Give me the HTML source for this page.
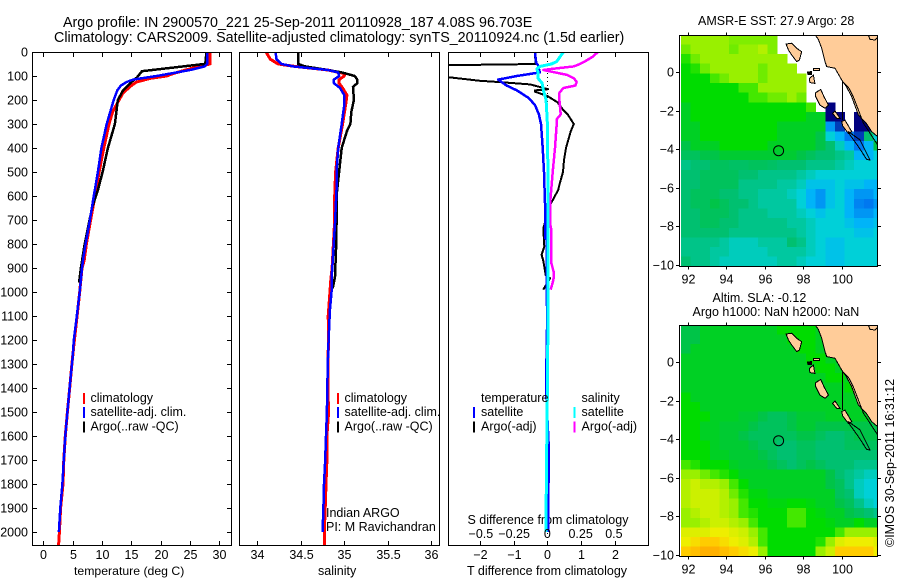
<!DOCTYPE html>
<html>
<head>
<meta charset="utf-8">
<title>Argo profile</title>
<style>
html,body{margin:0;padding:0;background:#fff;}
svg{display:block;}
text{font-family:"Liberation Sans",sans-serif;font-size:12.5px;fill:#000;}
.title{font-size:14.3px;}
</style>
</head>
<body>
<svg id="chart" xmlns="http://www.w3.org/2000/svg" width="900" height="580" viewBox="0 0 900 580">
<rect width="900" height="580" fill="#fff"/>
<defs>
<clipPath id="clip-t"><rect x="33" y="53" width="198" height="492"/></clipPath>
<clipPath id="clip-s"><rect x="240" y="53" width="199" height="492"/></clipPath>
<clipPath id="clip-d"><rect x="449" y="53" width="199" height="492"/></clipPath>
<clipPath id="clip-m1"><rect x="680" y="36" width="197" height="230"/></clipPath>
<clipPath id="clip-m2"><rect x="680" y="326" width="197" height="230"/></clipPath>
</defs>
<text class="title" x="63" y="27">Argo profile: IN 2900570_221 25-Sep-2011 20110928_187 4.08S 96.703E</text>
<text class="title" x="54" y="42">Climatology: CARS2009. Satellite-adjusted climatology: synTS_20110924.nc (1.5d earlier)</text>
<text x="698" y="25">AMSR-E SST: 27.9 Argo: 28</text>
<text x="712.5" y="302">Altim. SLA: -0.12</text>
<text x="692.5" y="316">Argo h1000: NaN h2000: NaN</text>
<text transform="translate(894,547) rotate(-90)">©IMOS 30-Sep-2011 16:31:12</text>
<text x="74" y="575" style="font-size:12.25px">temperature (deg C)</text>
<text x="318" y="575">salinity</text>
<text x="467" y="575">T difference from climatology</text>
<text x="467.5" y="524">S difference from climatology</text>
<text x="326" y="517">Indian ARGO</text>
<text x="326" y="531">PI: M Ravichandran</text>
<g id="layer"></g>
</svg>
<script>
/* ---------- axis ticks ---------- */
var depthTicks = [0,100,200,300,400,500,600,700,800,900,1000,1100,1200,1300,1400,1500,1600,1700,1800,1900,2000];
var tempTicks = [0,5,10,15,20,25,30];
var salTicks = [34,34.5,35,35.5,36];
var salTickLabels = ['34','34.5','35','35.5','36'];
var tDiffTicks = [-2,-1,0,1,2];
var sDiffTicks = [-0.5,-0.25,0,0.25,0.5];
var sDiffTickLabels = ['−0.5','−0.25','0','0.25','0.5'];
var lonTicks = [92,94,96,98,100];
var latTicks = [0,-2,-4,-6,-8,-10];

/* ---------- temperature profile ---------- */
var tempClimDepth = [0,50,60,70,90,100,110,125,140,170,200,250,300,400,500,600,700,800,870,900,1000,1100,1200,1300,1400,1500,1600,1700,1800,1900,2000,2054];
var tempClim = [28.4,28.4,26.7,25,22.1,21,18.2,15.9,15,13.6,12.9,11.8,11.2,10.3,9.5,8.8,8.05,7.35,6.95,6.6,6.2,5.75,5.3,4.87,4.5,4.1,3.75,3.5,3.35,2.95,2.75,2.6];
var tempSatDepth = [0,50,60,75,90,100,115,125,140,160,200,250,300,400,500,600,714,800,853,900,1000,1100,1200,1270,1395,1500,1600,1700,1800,1900,2000];
var tempSat = [27.9,27.9,27.5,25,21.6,19.3,15.3,14.2,13.2,12.6,12,11.4,10.8,9.9,9.3,8.6,7.84,7.2,6.85,6.6,6.2,5.7,5.2,5,4.5,4.1,3.75,3.5,3.25,2.9,2.65];
var tempArgoDepth = [0,48,50,80,105,130,160,200,300,400,500,575,650,800,900,960];
var tempArgo = [27.8,27.6,27.4,16.8,16,14.8,13.6,12.7,12.2,11,10.1,9.3,8.3,7.05,6.4,6.1];

/* ---------- salinity profile ---------- */
var salClimDepth = [0,30,50,60,75,90,100,115,130,150,180,210,300,400,500,600,700,800,900,950,1050,1100,1200,1300,1400,1500,1600,1700,1800,1900,2000,2054];
var salClim = [34.1,34.15,34.24,34.43,34.81,35,35,34.94,34.94,34.98,35.03,35.02,34.98,34.93,34.9,34.89,34.89,34.875,34.86,34.845,34.825,34.815,34.82,34.81,34.81,34.82,34.8,34.8,34.79,34.78,34.77,34.77];
var salSatDepth = [0,30,50,60,75,85,100,115,130,150,180,220,300,400,500,575,714,825,936,992,1075,1200,1300,1400,1500,1600,1700,1800,1900,2000];
var salSat = [34.21,34.22,34.28,34.41,34.81,34.93,34.94,34.88,34.88,34.95,35,35,34.97,34.93,34.91,34.91,34.893,34.875,34.855,34.855,34.835,34.82,34.81,34.805,34.8,34.79,34.78,34.767,34.76,34.75];
var salArgoDepth = [0,50,60,75,85,100,115,130,145,200,250,300,330,400,500,600,720,825,936,960,985];
var salArgo = [34.47,34.47,34.55,34.81,34.97,35.12,35.15,35.15,35.1,35.11,35.08,35.07,35.03,34.97,34.94,34.91,34.91,34.905,34.893,34.88,34.867];

/* ---------- difference profiles ---------- */
var tDiffArgoDepth = [0,45,50,55,80,105,120,125,135,155,160,165,175,185,210,240,260,300,330,400,450,500,550,575,637,735,810,845,870,930,943,990];
var tDiffArgo = [-0.37,-0.35,-0.33,-2.92,-5,-2.92,-1.99,-1.45,-0.51,0.02,-0.37,-0.37,-0.17,0.02,0.3,0.46,0.6,0.78,0.69,0.55,0.49,0.46,0.36,0.32,0.08,-0.12,-0.09,-0.17,-0.12,-0.05,0.08,-0.12];
var tDiffSatDepth = [0,45,55,85,100,115,125,140,160,190,220,260,300,400,500,630,776,780,1054,1060,1400,1650,2000];
var tDiffSat = [-0.37,-0.33,-0.28,-0.22,-0.9,-1.45,-1.35,-1.2,-0.9,-0.57,-0.37,-0.25,-0.19,-0.14,-0.1,-0.07,-0.07,-0.02,-0.02,0,-0.04,0.04,0.02];
var sDiffSatDepth = [0,20,40,50,60,70,85,110,130,160,200,300,630,1000,1400,1800,2000];
var sDiffSat = [0.12,0.095,0.07,0.03,-0.055,-0.08,-0.07,-0.07,-0.04,-0.03,-0.01,0,0.006,0.006,0,-0.008,-0.01];
var sDiffArgoDepth = [0,20,40,50,60,70,75,85,95,110,125,140,150,170,200,260,280,300,400,500,630,714,742,880,922,950,990];
var sDiffArgo = [0.38,0.34,0.28,0.245,0.2,0.04,-0.03,0.057,0.145,0.2,0.22,0.21,0.12,0.09,0.09,0.1,0.07,0.07,0.057,0.04,0.02,0.02,0.03,0.03,0.05,0.045,0.025];

/* ---------- map fields: colour levels on rows north to south, 0.5 degree cells ---------- */
var sstField = [
[9,9,9,9,9,8.7,8.7,8.7,8.7,8.7,null,null,null,null,null,null,null,null,null,null,null],
[8.5,9,9,9,9,8.5,9,9,9.5,8.7,null,null,null,null,null,null,null,null,null,null,null],
[7.5,8.5,9,9,9,9,9,9,9,9,9,null,null,null,null,null,null,null,null,null,null],
[7,7.5,8.5,9,9,9,9,9,8.5,9,9,9,null,null,null,null,null,null,null,null,null],
[7,7,7,8,8.5,9,9,9,8.5,9,9,9,9,null,null,null,null,null,null,null,null],
[7,7,7,7,7,7,8,8,9,9,9,9,9,null,null,null,null,null,null,null,null],
[7,7,7,7,7,7,7,8,8,8.5,8.5,9,8.5,null,null,null,null,null,null,null,null],
[6.5,7,7,7,7,7,7,7,7,7,7,7,7,8,null,0,null,null,null,null,null],
[6.5,7,7,7,7,7,7,7,7,7,7,7,7,6.5,6.5,0,0,null,0,0,null],
[6.5,6.5,7,7,7,7,7,7,7,7,6.5,6.5,6.5,6.5,6.5,1.5,0.5,null,0,0,null],
[6.5,6.5,7,7,7,7,7,7,7,7,6.5,6.5,6.5,6.5,6,3,2,1,0.5,5,3],
[6,6.5,6.5,6.5,7,7,7,7,7,6.5,6.5,6.5,6.5,6.5,6,5,3.5,2,1,2,6],
[5.5,5.5,6,6,6.3,6.3,6.3,6.3,6.3,6.3,6.3,6.3,6,5.5,5,5,4.5,4,2,2,3],
[4.5,5,5,5.5,5.5,5.3,5.3,5.5,5.5,5.3,5,5,5,4.5,4.5,4.5,4,3.5,3,3,3],
[5,5,5.5,5.5,5.5,5.5,5,5,4.5,4.5,4.5,4.5,4,3.5,3,3,3,3,3,3,3],
[5,5,5.5,5.5,5.5,5.5,4.5,4.5,4.5,4.5,4,4,3.5,2.5,2.5,2.5,3,2.5,2.5,2,2],
[5,5.5,5.5,5.5,5,5,4.5,4.5,4,4,4,3.5,3,2,1.5,2.5,3,2,1.5,1.5,2],
[5,5.5,5.5,6,5.5,5,5,4.5,4,4,4,4,3,2,1.5,2.5,3,2,1.2,1,1.5],
[5,5,5.5,5.5,5.5,5,4.5,4.5,4.5,4,4,4,3.5,3,2.5,3,3,2,1.5,1.5,2],
[5,5,5.5,5.5,5,5,4.5,4.5,4.5,4.5,4.5,4,4,3.5,3,3,3,2.5,2,2,2.5],
[5,5,5,5,5,4.5,4.5,4.5,4.5,4.5,4.5,4.5,4,3.5,3,3,3,3,2.5,2.5,3],
[4.5,4.5,4.5,4.5,4,3.5,3.5,3.5,4,4,4,5,4.5,3.5,3,2.5,2.5,3,3,3,3],
[4.5,4.5,4.5,4,4,3.5,3.5,3.5,3.5,4,4,4,4,3.5,3,2.5,2.5,3,3,3,3],
[5,4.5,4.5,4,3.5,3.5,3.5,3.5,3.5,3.5,4,4,3.5,3,3,2.5,2.5,3,3,3,3]
];
var slaField = [
[6,6,6.5,6.5,6.5,6.5,6.5,6.5,6.5,6.5,7,7,7,7,6.5,6.5,6.5,6.5,6.5,6.5,6.5],
[6,6,6.5,6.5,6.5,6.5,6.5,6.5,6.5,6.5,6.5,7,7,7,6.5,6.5,6.5,6.5,6.5,6.5,6.5],
[6,6.5,6.5,6.5,6.5,6.5,6.5,6.5,6.5,6.5,6.5,6.5,7,7,6.5,6.5,6.5,6.5,6.5,6.5,6.5],
[6.5,6.5,6.5,6.5,6.5,6.5,6.5,6.5,6.5,6.5,6.5,6.5,6.5,7,7,6.5,6.5,6.5,6.5,6.5,6.5],
[6.5,6.5,6.5,6.5,6.5,6.5,6.5,6.5,6.5,6.5,6.5,6.5,6.5,6.5,7,7,6.5,6.5,6.5,6.5,6.5],
[6.5,6.5,6.5,6.5,6.5,6.5,6.5,6.5,6.5,6.5,6.5,6.5,6.5,6.5,6.5,7,7,6.5,6.5,6.5,6.5],
[6.5,6.5,6.5,6.5,6.5,6.5,6.5,6.5,6.5,6.5,6.5,6.5,6.5,6.5,6.5,6.5,6.5,7,6.5,6.5,6.5],
[7,6.5,6.5,6.5,6.5,6.5,6.5,6.5,6.5,6.5,6.5,6.5,6.5,6.5,6.5,6.5,6.5,6.5,6.5,6.5,6.5],
[7,7,6.5,6.5,6.5,6.5,6.5,6.5,6.5,6.5,6.5,6.5,6.5,6.5,6.5,6.5,6.5,6.5,6.5,6.5,6.5],
[7,7,7,6.5,6.5,6.5,6.3,6.3,6,5.5,5.5,6,6.3,6.3,6.3,6.5,6.5,6.5,6.5,6.5,6.5],
[7,7,6.5,6.5,6.3,6.3,6.3,6,5.5,5.5,5.5,6,6.3,6.3,6,6,6,6,6,6,6],
[7,7,6.5,6.5,6.3,6.3,6,5.5,5.5,5.5,5.5,5.5,6,6,5.5,5,5,5.5,6,6,6],
[7,7,7,6.5,6.3,6.3,6.3,6,5.5,5.5,5,5,5.5,5.5,5,5,5,5.5,5.5,5.5,5.5],
[7,7,7,6.5,6.5,6.3,6.3,6.3,6,5.5,5,5,5.5,5.5,5,5,5,5,5,5,5],
[8,7.5,7,7,7,6.5,6.3,6.3,6.3,6,5.5,5,5.5,6,5.5,5,5,5,4.5,4.5,4.5],
[9,9,8.5,8,7.5,7,6.5,6.5,6.5,6.5,6.5,6.5,6.5,6.5,6.5,6,5,4.5,4,3.5,3.5],
[9.5,10,9.5,9.5,9,8,7,6.5,6.5,6.5,6.5,6.5,6.5,6.5,6.5,6,5.5,4.5,3.5,3,3],
[9.5,10,10,10,9.5,8.5,7.5,6.8,6.8,6.5,6.5,6.5,6.5,6.5,6.5,6.5,5.5,5,3.5,3,3],
[9.5,10,10,10,9.5,9,8,7,7,6.8,6.8,7,7,6.8,6.5,6.5,6,5.5,4.5,3.5,3],
[9,9.5,10,10,9.5,9,8,7.5,7,7,7,8,8,7,6.8,6.5,6.5,6,5.5,5,4.5],
[9,9,9.5,10,10,9.5,9,8,7,7,7,8,8,7,7,6.8,6.5,6.5,7,6.5,6.5],
[10.5,10.5,10.5,11,11,10.5,10,9,8,7,7,7,7,7,7,7,8,9,9,9,9],
[11,11.5,12,12,11.5,11,10.5,9.5,8,7,7,7,7,7,7.5,9,10.5,11,11,11,10.5],
[12,12.5,13,13,12.5,12,11.5,11,9,7,7,7,7,7,9,10,12,12,12,12,11]
];
var fieldColours = ['#000080','#0078f0','#00b4f8','#00d0d8','#00c8a0','#00c070','#00c448','#00dc00','#44e800','#99f000','#ccf000','#eeee00','#ffcc00','#ffb000'];

/* ---------- coastline ---------- */
var mainlandLon = [98.65,98.79,98.96,99.13,99.22,99.65,100,100.26,100.52,100.87,101.3,101.56,101.87,101.87];
var mainlandLat = [1.88,1.69,1.23,0.54,0.28,0.19,-0.41,-0.79,-1.28,-2.23,-2.69,-3.09,-3.35,1.88];
var simeulueLon = [97.11,97.4,97.66,97.92,97.8,97.66,97.4,97.23];
var simeulueLat = [1.45,1.49,1.23,1.05,0.62,0.54,0.88,1.14];
var niasLon = [98.65,98.91,99.08,99.31,99.13,98.87,98.65];
var niasLat = [-1.07,-0.9,-1.28,-1.71,-1.88,-1.71,-1.28];
var banyakLon = [98.32,98.53,98.61,98.35];
var banyakLat = [-0.33,-0.16,-0.59,-0.55];
var isletLon = [98.53,98.84,98.84,98.53];
var isletLat = [0.19,0.19,0.07,0.07];
var blobLon = [98.22,98.42,98.42,98.25];
var blobLat = [0,0.02,-0.12,-0.12];
var siberutLon = [99.52,99.65,99.91,99.74];
var siberutLat = [-2.14,-2.02,-2.4,-2.4];
var siporaLon = [100,100.17,100.52,100.35,100.05];
var siporaLat = [-2.57,-2.49,-3.09,-3.18,-2.8];
var contourALon = [100.05,100.05];
var contourALat = [-0.5,-2.49];
var contourBLon = [100.09,100.35,100.6,101.13,101.87];
var contourBLat = [-0.55,-0.79,-1.28,-2.66,-3.78];
var contourCLon = [100.35,100.95,101.47,101.3,100.87,100.43];
var contourCLat = [-3.09,-3.52,-4.56,-4.53,-3.87,-3.26];
var bayLon = [101.39,101.47,101.73,101.87,101.87];
var bayLat = [1.88,1.69,1.66,1.8,1.88];
var floatLon = 96.72;
var floatLat = -4.08;

/* ---------- axis functions ---------- */
function yDepth(d){return 52+0.24*d;}
function xTemp(t){return 43.3+5.87*t;}
function xSal(s){return 257.3+87*(s-34);}
function xTDiff(t){return 547.4+33.9*t;}
function xSDiff(s){return 547.4+133*s;}
function xLon(lon){return 687.7+19.25*(lon-92);}
function yLat1(lat){return 72-19.3*lat;}
function yLat2(lat){return 362-19.3*lat;}

var NS='http://www.w3.org/2000/svg';
var root=document.getElementById('layer');
function mk(tag,attrs,parent){
  var e=document.createElementNS(NS,tag);
  for(var k in attrs){e.setAttribute(k,attrs[k]);}
  (parent||root).appendChild(e);
  return e;
}
function tickLine(x1,y1,x2,y2,parent){
  var t=mk('line',{x1:x1,y1:y1,x2:x2,y2:y2,stroke:'#000','stroke-width':1,'shape-rendering':'crispEdges'},parent);
  
  
}
function tickText(x,y,anchor,str,parent){
  var t=mk('text',{x:x,y:y,'text-anchor':anchor},parent);
  t.textContent=str;
  
  
}
function frame(x,y,w,h,name){
  var f=mk('rect',{x:x,y:y,width:w,height:h,fill:'none',stroke:'#000','stroke-width':1,'shape-rendering':'crispEdges'});
  
  
}
function profile(xf,depths,vals,colour,clip,name,width){
  var pts=[];
  for(var i=0;i<vals.length;i++){pts.push(xf(vals[i]).toFixed(1)+','+yDepth(depths[i]).toFixed(1));}
  var p=mk('polyline',{points:pts.join(' '),fill:'none',stroke:colour,'stroke-width':width||2,'clip-path':'url(#'+clip+')','stroke-linejoin':'round','shape-rendering':'crispEdges'});
  
  
}
function legendBar(x,y,colour,name){
  var b=mk('rect',{x:x,y:y,width:2,height:11,fill:colour,'shape-rendering':'crispEdges'});
  
  
}
function legendText(x,y,str,name){
  var t=mk('text',{x:x,y:y});
  t.textContent=str;
  
  
}

/* ---------- profile panels ---------- */
function drawProfilePanels(){
  var i,x;
  // temperature
  profile(xTemp,tempClimDepth,tempClim,'#ff0000','clip-t','temperature-climatology-line',3);
  profile(xTemp,tempArgoDepth,tempArgo,'#000000','clip-t','temperature-argo-line',2.5);
  profile(xTemp,tempSatDepth,tempSat,'#0000ff','clip-t','temperature-satellite-line',2.5);
  frame(32.5,52.5,199,493,'temperature-plot-frame');
  for(i=0;i<depthTicks.length;i++){
    var y=Math.round(yDepth(depthTicks[i]))+0.5;
    tickLine(33,y,37,y);
    tickLine(227,y,231,y);
    tickText(28,y+4,'end',String(depthTicks[i]));
  }
  for(i=0;i<tempTicks.length;i++){
    x=Math.round(xTemp(tempTicks[i]))+0.5;
    tickLine(x,53,x,57);
    tickLine(x,541,x,545);
    tickText(x,559,'middle',String(tempTicks[i]));
  }
  // salinity
  profile(xSal,salClimDepth,salClim,'#ff0000','clip-s','salinity-climatology-line',3);
  profile(xSal,salArgoDepth,salArgo,'#000000','clip-s','salinity-argo-line',2.5);
  profile(xSal,salSatDepth,salSat,'#0000ff','clip-s','salinity-satellite-line',2.5);
  frame(239.5,52.5,200,493,'salinity-plot-frame');
  for(i=0;i<salTicks.length;i++){
    x=Math.round(xSal(salTicks[i]))+0.5;
    tickLine(x,53,x,57);
    tickLine(x,541,x,545);
    tickText(x,559,'middle',salTickLabels[i]);
  }
  // differences
  var zero=mk('line',{x1:547.5,y1:53,x2:547.5,y2:545,stroke:'#000','stroke-width':1,'stroke-dasharray':'1 3','shape-rendering':'crispEdges'});
  
  
  profile(xTDiff,tDiffArgoDepth,tDiffArgo,'#000000','clip-d','t-difference-argo-line',2);
  profile(xSDiff,sDiffArgoDepth,sDiffArgo,'#ff00ff','clip-d','s-difference-argo-line',2.5);
  profile(xTDiff,tDiffSatDepth,tDiffSat,'#0000ff','clip-d','t-difference-satellite-line',2.5);
  profile(xSDiff,sDiffSatDepth,sDiffSat,'#00ffff','clip-d','s-difference-satellite-line',3);
  frame(448.5,52.5,200,493,'difference-plot-frame');
  for(i=0;i<tDiffTicks.length;i++){
    x=Math.round(xTDiff(tDiffTicks[i]))+0.5;
    tickLine(x,53,x,57);
    tickLine(x,541,x,545);
    tickText(x,559,'middle',tDiffTicks[i]<0?'−'+Math.abs(tDiffTicks[i]):String(tDiffTicks[i]));
  }
  for(i=0;i<sDiffTicks.length;i++){
    tickText(xSDiff(sDiffTicks[i]),538,'middle',sDiffTickLabels[i]);
  }
}

/* ---------- legends ---------- */
function drawLegends(){
  legendBar(83,393,'#ff0000','temperature-legend-climatology-swatch');
  legendBar(83,407,'#0000ff','temperature-legend-satellite-swatch');
  legendBar(83,421.5,'#000000','temperature-legend-argo-swatch');
  legendText(90.5,402,'climatology','temperature-legend-climatology');
  legendText(90.5,416,'satellite-adj. clim.','temperature-legend-satellite');
  legendText(90.5,430.5,'Argo(..raw -QC)','temperature-legend-argo');
  legendBar(337,393,'#ff0000','salinity-legend-climatology-swatch');
  legendBar(337,407,'#0000ff','salinity-legend-satellite-swatch');
  legendBar(337,421.5,'#000000','salinity-legend-argo-swatch');
  legendText(344.5,402,'climatology','salinity-legend-climatology');
  legendText(344.5,416,'satellite-adj. clim.','salinity-legend-satellite');
  legendText(344.5,430.5,'Argo(..raw -QC)','salinity-legend-argo');
  legendText(481,402,'temperature','difference-legend-temperature-heading');
  legendText(581.5,402,'salinity','difference-legend-salinity-heading');
  legendBar(473,407,'#0000ff','difference-legend-t-satellite-swatch');
  legendBar(473,421.5,'#000000','difference-legend-t-argo-swatch');
  legendBar(573.5,407,'#00ffff','difference-legend-s-satellite-swatch');
  legendBar(573.5,421.5,'#ff00ff','difference-legend-s-argo-swatch');
  legendText(481,416,'satellite','difference-legend-t-satellite');
  legendText(481,430.5,'Argo(-adj)','difference-legend-t-argo');
  legendText(581.5,416,'satellite','difference-legend-s-satellite');
  legendText(581.5,430.5,'Argo(-adj)','difference-legend-s-argo');
}

/* ---------- maps ---------- */
function fieldColour(v){
  var n=fieldColours.length-1;
  var c=Math.max(0,Math.min(n,v));
  var lo=Math.floor(c),hi=Math.min(n,lo+1),f=c-lo;
  function ch(s,a){return parseInt(s.substr(a,2),16);}
  var a=fieldColours[lo],b=fieldColours[hi];
  return 'rgb('+Math.round(ch(a,1)+(ch(b,1)-ch(a,1))*f)+','+Math.round(ch(a,3)+(ch(b,3)-ch(a,3))*f)+','+Math.round(ch(a,5)+(ch(b,5)-ch(a,5))*f)+')';
}
function shape(lons,lats,yf,fill,stroke,clip,name,closed){
  var pts=[];
  for(var i=0;i<lons.length;i++){pts.push(xLon(lons[i]).toFixed(1)+','+yf(lats[i]).toFixed(1));}
  var s=mk(closed?'polygon':'polyline',{points:pts.join(' '),fill:fill,stroke:stroke,'stroke-width':1,'clip-path':'url(#'+clip+')','shape-rendering':'crispEdges'});
  
  
}
function drawMap(field,yf,clip,left,top,prefix){
  var i,j;
  var cols=field[0].length;
  for(i=0;i<field.length;i++){
    for(j=0;j<cols;j++){
      if(field[i][j]===null){continue;}
      var lonW=91.65+0.5*j, latN=1.93-0.5*i;
      var c=mk('rect',{x:Math.max(681,xLon(lonW)).toFixed(1),y:yf(latN).toFixed(1),width:(19.25*0.5+0.5).toFixed(2),height:(19.3*0.5+0.5).toFixed(2),fill:fieldColour(field[i][j]),'clip-path':'url(#'+clip+')','shape-rendering':'crispEdges'});
      
      
    }
  }
  var land='#ffcc99';
  shape(mainlandLon,mainlandLat,yf,land,'#000',clip,prefix+'-mainland',true);
  shape(bayLon,bayLat,yf,land,'#000',clip,prefix+'-northeast-coast',true);
  shape(simeulueLon,simeulueLat,yf,land,'#000',clip,prefix+'-simeulue-island',true);
  shape(niasLon,niasLat,yf,land,'#000',clip,prefix+'-nias-island',true);
  shape(banyakLon,banyakLat,yf,land,'#000',clip,prefix+'-banyak-island',true);
  shape(isletLon,isletLat,yf,land,'#000',clip,prefix+'-islet',true);
  shape(blobLon,blobLat,yf,'#000','#000',clip,prefix+'-small-islets',true);
  shape(siberutLon,siberutLat,yf,land,'#000',clip,prefix+'-siberut-island',true);
  shape(siporaLon,siporaLat,yf,land,'#000',clip,prefix+'-sipora-island',true);
  shape(contourALon,contourALat,yf,'none','#000',clip,prefix+'-contour-a',false);
  shape(contourBLon,contourBLat,yf,'none','#000',clip,prefix+'-contour-b',false);
  shape(contourCLon,contourCLat,yf,'none','#000',clip,prefix+'-contour-c',true);
  var ring=mk('circle',{cx:xLon(floatLon).toFixed(1),cy:yf(floatLat).toFixed(1),r:5,fill:'none',stroke:'#000','stroke-width':1});
  
  
  frame(679.5,top,198,231,prefix+'-frame');
  for(i=0;i<lonTicks.length;i++){
    var x=Math.round(xLon(lonTicks[i]))+0.5;
    tickLine(x,top-3,x,top);
    tickLine(x,top+231,x,top+234);
    tickText(x,top+248,'middle',String(lonTicks[i]));
  }
  for(i=0;i<latTicks.length;i++){
    var y=Math.round(yf(latTicks[i]))+0.5;
    tickLine(676,y,679,y);
    tickLine(878,y,881,y);
    tickText(674,y+4,'end',latTicks[i]<0?'−'+Math.abs(latTicks[i]):String(latTicks[i]));
  }
}

drawProfilePanels();
drawLegends();
drawMap(sstField,yLat1,'clip-m1',679.5,35.5,'sst-map');
drawMap(slaField,yLat2,'clip-m2',679.5,325.5,'sla-map');
</script>
</body>
</html>
